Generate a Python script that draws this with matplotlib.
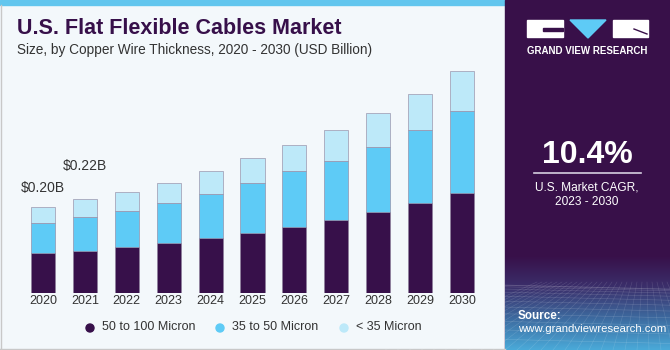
import numpy as np
import matplotlib.pyplot as plt
from matplotlib.patches import Rectangle, Polygon, Circle
from matplotlib.colors import LinearSegmentedColormap

years = ['2020', '2021', '2022', '2023', '2024', '2025', '2026', '2027', '2028', '2029', '2030']
micron_50_100 = [0.093, 0.098, 0.107, 0.116, 0.128, 0.140, 0.154, 0.170, 0.188, 0.209, 0.233]
micron_35_50 = [0.070, 0.079, 0.084, 0.093, 0.102, 0.116, 0.130, 0.137, 0.151, 0.170, 0.191]
micron_lt_35 = [0.037, 0.042, 0.044, 0.047, 0.053, 0.058, 0.060, 0.072, 0.079, 0.084, 0.093]
series_names = ['50 to 100 Micron', '35 to 50 Micron', '< 35 Micron']
colors = ['#37104a', '#5ecbf6', '#bde9f9']
labels = {0: '$0.20B', 1: '$0.22B'}

plt.rcParams['font.family'] = ['Liberation Sans', 'DejaVu Sans']

W, H = 670, 350
fig = plt.figure(figsize=(W / 100, H / 100), dpi=100)

# background layer in pixel coordinates (y downward)
bg = fig.add_axes([0, 0, 1, 1], zorder=0)
bg.set_xlim(0, W)
bg.set_ylim(H, 0)
bg.axis('off')
bg.add_patch(Rectangle((0, 0), 505, H, color='#f3f8fb'))
bg.add_patch(Rectangle((0, 0), 505, 5, color='#62c6ee'))
bg.plot([0.5, 0.5], [5, H], color='#c8c8c8', lw=1)
bg.plot([0, 505], [H - 1, H - 1], color='#c8c8c8', lw=1)

# right panel
bg.add_patch(Rectangle((505, 0), W - 505, H, color='#381049'))
grad = np.linspace(0, 1, 100)[:, None]
cmap = LinearSegmentedColormap.from_list('p', ['#381049', '#3b2f6b', '#3d6a9f', '#4aa9d8'])
bg.imshow(grad, extent=(505, W, 350, 255), cmap=cmap, aspect='auto', zorder=1, origin='upper')
for k in range(12):
    yy = 285 + k * k * 0.45
    bg.plot([505, W], [yy, yy + 4], color='white', lw=0.4, alpha=0.18, zorder=2)
for k in range(-10, 22):
    bg.plot([505 + k * 12, 587 + k * 5], [H, 282], color='white', lw=0.4, alpha=0.15, zorder=2)

# logo
bg.add_patch(Rectangle((527, 20), 36, 17, color='white', zorder=3))
bg.add_patch(Rectangle((543, 28), 20, 3, color='#381049', zorder=4))
bg.add_patch(Polygon([[570, 20], [606, 20], [588, 38]], closed=True, color='#5ecbf6', zorder=3))
bg.add_patch(Rectangle((613, 20), 35, 17, color='white', zorder=3))
bg.plot([634, 647], [29, 34], color='#381049', lw=1, zorder=4)
bg.text(587, 51, 'GRAND VIEW RESEARCH', color='white', fontsize=7, fontweight='bold',
        ha='center', va='center', zorder=3)

bg.text(587, 155, '10.4%', color='white', fontsize=23, fontweight='bold',
        ha='center', va='center', zorder=3)
bg.plot([534, 641], [173, 173], color='#d6cfe0', lw=1.2, zorder=3)
bg.text(587, 188, 'U.S. Market CAGR,', color='white', fontsize=8.6, ha='center', va='center', zorder=3)
bg.text(587, 202, '2023 - 2030', color='white', fontsize=8.6, ha='center', va='center', zorder=3)
bg.text(518, 316, 'Source:', color='white', fontsize=8.4, fontweight='bold', ha='left', va='center', zorder=3)
bg.text(518, 329, 'www.grandviewresearch.com', color='white', fontsize=8.2, ha='left', va='center', zorder=3)

# titles
bg.text(17, 28, 'U.S. Flat Flexible Cables Market', color='#37104a', fontsize=15.5,
        fontweight='bold', ha='left', va='center')
bg.text(17, 50, 'Size, by Copper Wire Thickness, 2020 - 2030 (USD Billion)', color='#333333',
        fontsize=9.8, ha='left', va='center')

# bar chart axes
px = 41.9
x0 = -43 / px
ax = fig.add_axes([0, 57 / H, 505 / W, 230 / H], zorder=1)
ax.set_xlim(x0, x0 + 505 / px)
ax.set_ylim(0, 230 * 0.002326)
ax.axis('off')
ax.patch.set_alpha(0)

x = np.arange(len(years))
bottom = np.zeros(len(years))
for vals, c in zip([micron_50_100, micron_35_50, micron_lt_35], colors):
    ax.bar(x, vals, 0.573, bottom=bottom, color=c, edgecolor='#8c7f9a', linewidth=0.4)
    bottom += np.array(vals)

label_offsets = {0: 14, 1: 24}
for i, t in labels.items():
    ax.annotate(t, (x[i], bottom[i]), xytext=(0, label_offsets[i]), textcoords='offset points',
                ha='center', va='center', fontsize=10, color='#333333')

for i, y in enumerate(years):
    ax.text(x[i], -0.005, y, ha='center', va='top', fontsize=9, color='#333333')

# legend
leg_x = [90, 220, 344]
for lx, name, c in zip(leg_x, series_names, colors):
    bg.add_patch(Circle((lx, 328), 4, color=c, zorder=3))
    bg.text(lx + 12, 327.5, name, fontsize=9, color='#333333', ha='left', va='center', zorder=3)

fig.savefig('out.png', dpi=100)
